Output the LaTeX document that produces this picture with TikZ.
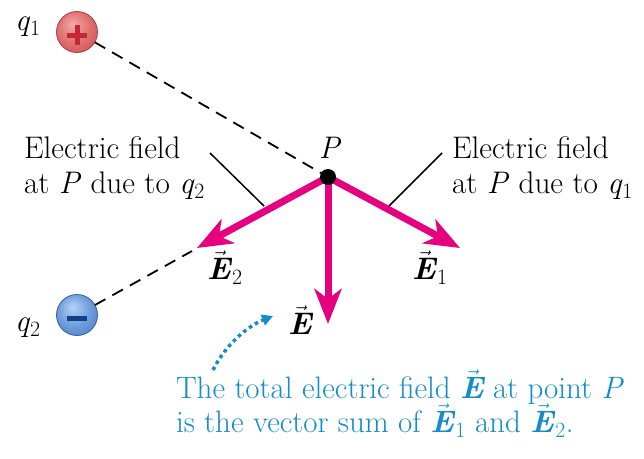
\documentclass[tikz,border=0pt]{standalone}
\usepackage{fontspec}
\usetikzlibrary{arrows.meta}
\definecolor{fieldmag}{RGB}{228,0,126}
\definecolor{notecol}{RGB}{20,140,200}
\definecolor{rbA}{RGB}{244,170,170}
\definecolor{rbB}{RGB}{226,115,115}
\definecolor{rbC}{RGB}{196,70,70}
\definecolor{rbLine}{RGB}{175,60,60}
\definecolor{signred}{RGB}{196,38,58}
\definecolor{bbA}{RGB}{180,210,245}
\definecolor{bbB}{RGB}{115,162,222}
\definecolor{bbC}{RGB}{62,110,190}
\definecolor{bbLine}{RGB}{50,95,170}
\definecolor{signblue}{RGB}{22,60,140}
\pgfdeclareradialshading{redball}{\pgfpoint{-6bp}{10bp}}{color(0bp)=(rbA);color(18bp)=(rbB);color(42bp)=(rbC);color(50bp)=(rbC)}
\pgfdeclareradialshading{blueball}{\pgfpoint{-6bp}{10bp}}{color(0bp)=(bbA);color(18bp)=(bbB);color(42bp)=(bbC);color(50bp)=(bbC)}
\newcommand{\vE}{$\vec{\mbox{\bfseries\itshape E}}$}
\newcommand{\vEsub}[1]{\vE\kern1.5pt\textsubscript{#1}}
\tikzset{
  every node/.style={font=\fontsize{31.2}{35}\selectfont, inner sep=0pt, outer sep=0pt},
  charge/.style={circle, minimum size=41pt, line width=0.8pt},
  signline/.style={line width=5pt},
  vecarrow/.style={fieldmag, line width=7pt, -{Stealth[length=35pt,width=27pt,inset=10pt]}},
  dashline/.style={line width=1.8pt, dash pattern=on 12pt off 8pt},
  leader/.style={line width=1.5pt},
  note/.style={text=notecol, font=\fontsize{31}{34}\selectfont},
  dotarrow/.style={notecol, line width=3.5pt, dash pattern=on 3.5pt off 3.5pt, -{Triangle[length=11pt,width=11pt]}}
}
\begin{document}
\begin{tikzpicture}[x=1pt,y=-1pt]
\useasboundingbox (0,0) rectangle (644,458);
% charges
\node[anchor=base west] (q1lab) at (15,30) {\textit{q}\textsubscript{1}};
\node[charge, shading=redball, draw=rbLine] (q1ball) at (77,32) {};
\draw[signline, signred] ([xshift=-10pt,yshift=-3pt]q1ball.center) -- ([xshift=10pt,yshift=-3pt]q1ball.center);
\draw[signline, signred] ([yshift=-13pt]q1ball.center) -- ([yshift=7pt]q1ball.center);
\node[anchor=base west] (q2lab) at (15,331) {\textit{q}\textsubscript{2}};
\node[charge, shading=blueball, draw=bbLine] (q2ball) at (77,315) {};
\draw[signline, signblue] ([xshift=-10pt,yshift=-3pt]q2ball.center) -- ([xshift=10pt,yshift=-3pt]q2ball.center);
% point P
\coordinate (Pc) at (328,177);
\node[anchor=base] (Plab) at (330,158) {\textit{P}};
% dashed lines
\coordinate (q2end) at (192,251);
\draw[dashline] (q1ball) -- (Pc);
\draw[dashline] (q2ball) -- (q2end);
% field vectors
\coordinate (e2tip) at (197,248);
\coordinate (e1tip) at (460,248);
\coordinate (etip) at (328,324);
\draw[vecarrow] (Pc) -- (e2tip);
\draw[vecarrow] (Pc) -- (e1tip);
\draw[vecarrow] (Pc) -- (etip);
\node[circle, fill=black, minimum size=16pt] (P) at (Pc) {};
\node[anchor=base west] (e2lab) at (207,279) {\vEsub{2}};
\node[anchor=base west] (e1lab) at (412,279) {\vEsub{1}};
\node[anchor=base west] (elab) at (288,334) {\vE};
% side labels
\node[anchor=base west] (l2a) at (24,158) {Electric field};
\node[anchor=base west] (l2b) at (24,193) {at \textit{P} due to \textit{q}\textsubscript{2}};
\node[anchor=base west] (l1a) at (452,158) {Electric field};
\node[anchor=base west] (l1b) at (452,193) {at \textit{P} due to \textit{q}\textsubscript{1}};
\coordinate (lead2a) at (210,153);
\coordinate (lead2b) at (264,206);
\coordinate (lead1a) at (442,153);
\coordinate (lead1b) at (389,206);
\draw[leader] (lead2a) -- (lead2b);
\draw[leader] (lead1a) -- (lead1b);
% note
\node[note, anchor=base west] (note1) at (176,398) {The total electric field \vE{} at point \textit{P}};
\node[note, anchor=base west] (note2) at (176,432) {is the vector sum of \vEsub{1} and \vEsub{2}.};
\coordinate (dotstart) at (213,370);
\coordinate (dotend) at (273,316);
\draw[dotarrow] (dotstart) .. controls (226,344) and (248,326) .. (dotend);
\end{tikzpicture}
\end{document}
